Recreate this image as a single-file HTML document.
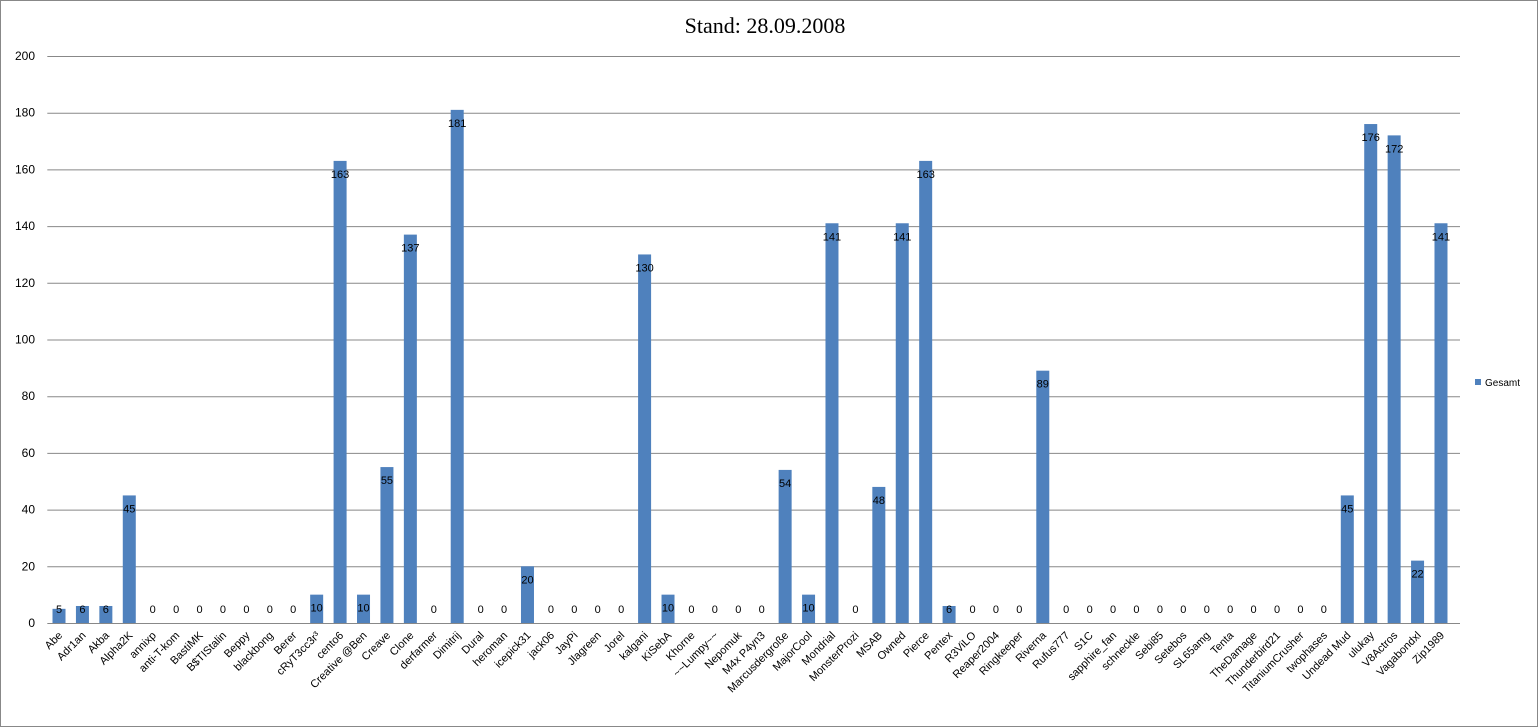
<!DOCTYPE html>
<html><head><meta charset="utf-8"><style>
body{margin:0;background:#fff}
svg{display:block;font-family:"Liberation Sans","DejaVu Sans",sans-serif}
</style></head><body>
<svg id="chart" width="1538" height="727">
<rect x="0.5" y="0.5" width="1537" height="726" fill="#fff" stroke="#888"/>
<text x="765" y="33" text-anchor="middle" font-family="Liberation Serif,serif" font-size="22">Stand: 28.09.2008</text>
<g id="grid"></g><g id="bars"></g><g id="labels"></g>
<g><rect x="1475" y="379" width="6" height="6" fill="#4f81bd"/><text x="1485" y="386" font-size="10">Gesamt</text></g>
</svg>
<script>
const categories=["Abe","Adr1an","Akba","Alpha2K","annixp","anti-T-kom","BastiMK","B$TIStalin","Beppy","blackbong","Berer","cRyT3cc3r³","cento6","Creative @Ben","Creave","Clone","derfarmer","Dimitrij","Dural","heroman","icepick31","jack06","JayPi","Jlagreen","Jorel","kalgani","KiSebA","Khorne","~~Lumpy~~","Nepomuk","M4x P4yn3","Marcusdergroße","MajorCool","Mondrial","MonsterProzi","MSAB","Owned","Pierce","Pentex","R3ViLO","Reaper2004","Ringkeeper","Riverna","Rufus777","S1C","sapphire_fan","schneckle","Sebi85","Setebos","SL65amg","Tenta","TheDamage","Thunderbird21","TitaniumCrusher","twophases","Undead Mud","ulukay","V8Actros","Vagabondxl","Zip1989"];
const values=[5,6,6,45,0,0,0,0,0,0,0,10,163,10,55,137,0,181,0,0,20,0,0,0,0,130,10,0,0,0,0,54,10,141,0,48,141,163,6,0,0,0,89,0,0,0,0,0,0,0,0,0,0,0,0,45,176,172,22,141];
const ticks=[0,20,40,60,80,100,120,140,160,180,200];
const NS="http://www.w3.org/2000/svg";
const X0=47.3,X1=1452.7,Y0=623,Y1=56,VMAX=200;
const bw=(X1-X0)/categories.length;
const y=v=>Y0-(v/VMAX)*(Y0-Y1);
const xc=i=>X0+bw*(i+0.5);
function mk(tag,attrs,parent,txt){const e=document.createElementNS(NS,tag);for(const k in attrs)e.setAttribute(k,attrs[k]);if(txt!==undefined)e.textContent=txt;parent.appendChild(e);return e;}
const grid=document.getElementById('grid'),bars=document.getElementById('bars'),labels=document.getElementById('labels');
ticks.forEach(t=>{
  const l=mk('line',{x1:X0,x2:1460,y1:y(t)+0.5,y2:y(t)+0.5,stroke:t===0?'#888':'#888','stroke-width':1},grid);
  
  
  const tx=mk('text',{x:35,y:y(t)+4,'text-anchor':'end','font-size':12},grid,t);
  
  
});
categories.forEach((c,i)=>{
  const v=values[i];const cx=xc(i);
  if(v>0){
    const r=mk('rect',{x:cx-6.5,y:y(v),width:13,height:Y0-y(v),fill:'#4f81bd'},bars);
    
    
  }
  const ly=Math.min(y(v)+13,609);
  const vt=mk('text',{x:cx,y:ly+4,'text-anchor':'middle','font-size':11},labels,v);
  
  
  const ct=mk('text',{x:cx+4,y:636,'text-anchor':'end','font-size':11,transform:`rotate(-45 ${cx+4} 636)`},labels,c);
  
  
});
</script>
</body></html>
